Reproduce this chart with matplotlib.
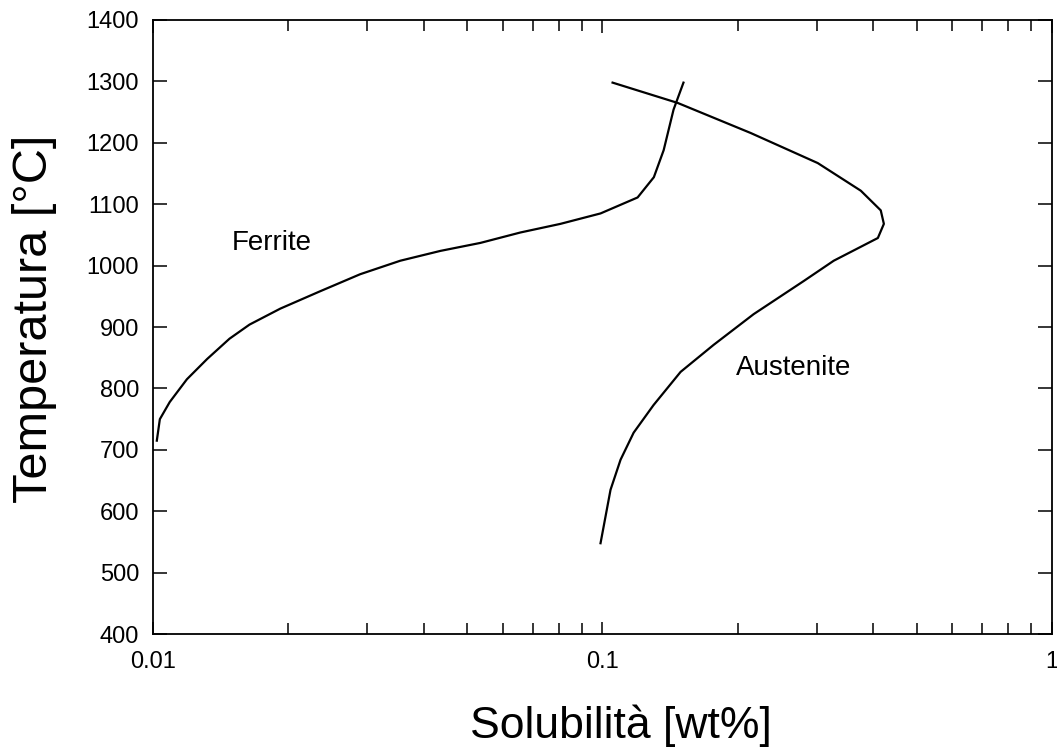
import numpy as np
import matplotlib
matplotlib.use("Agg")
import matplotlib.pyplot as plt
from matplotlib.ticker import FixedLocator, LogLocator, NullFormatter

plt.rcParams['font.family'] = ['Liberation Sans', 'DejaVu Sans']

# ferrite solubility curve (wt%, °C)
ferrite_x = [0.0102, 0.01036, 0.0109, 0.0119, 0.0132, 0.0148, 0.0164, 0.0192,
             0.0235, 0.0289, 0.0355, 0.0436, 0.0535, 0.0657, 0.0806, 0.099,
             0.1197, 0.1301, 0.1368, 0.1439, 0.1514]
ferrite_t = [715, 750, 778, 815, 848, 881, 904, 930,
             958, 986, 1008, 1024, 1037, 1054, 1068, 1085,
             1111, 1144, 1188, 1254, 1298]

# austenite solubility curve (wt%, °C)
austenite_x = [0.1053, 0.1469, 0.2136, 0.3012, 0.3755, 0.4159, 0.4226, 0.4098,
               0.3269, 0.2804, 0.2169, 0.1767, 0.1492, 0.1299, 0.1173, 0.1097,
               0.1042, 0.099]
austenite_t = [1298, 1265, 1216, 1167, 1122, 1090, 1068, 1045,
               1008, 975, 921, 871, 827, 773, 728, 684,
               635, 548]

yticks = [400, 500, 600, 700, 800, 900, 1000, 1100, 1200, 1300, 1400]
xticks = [0.01, 0.1, 1]
xtick_labels = ["0.01", "0.1", "1"]

fig = plt.figure(figsize=(10.57, 7.54), dpi=100)
ax = fig.add_axes([0.1447, 0.159, 0.8506, 0.8145])

ax.plot(ferrite_x, ferrite_t, color="black", lw=1.6, solid_joinstyle="round")
ax.plot(austenite_x, austenite_t, color="black", lw=1.6, solid_joinstyle="round")

ax.text(0.0184, 1037, "Ferrite", fontsize=20, ha="center", va="center")
ax.text(0.266, 834, "Austenite", fontsize=20, ha="center", va="center")

ax.set_xscale("log")
ax.set_xlim(0.01, 1)
ax.set_ylim(400, 1400)
ax.xaxis.set_major_locator(FixedLocator(xticks))
ax.set_xticklabels(xtick_labels)
ax.xaxis.set_minor_locator(LogLocator(base=10, subs=np.arange(2, 10)))
ax.xaxis.set_minor_formatter(NullFormatter())
ax.set_yticks(yticks)

ax.tick_params(which="both", direction="in", top=True, right=True,
               labelsize=17, width=1.1)
ax.tick_params(axis="x", which="major", length=9, pad=12)
ax.tick_params(axis="x", which="minor", length=8)
ax.tick_params(axis="y", length=10, pad=10)
for s in ax.spines.values():
    s.set_linewidth(1.3)

ax.set_xlabel("Solubilità [wt%]", fontsize=32)
ax.xaxis.set_label_coords(0.52, -0.115)
ax.set_ylabel("Temperatura [°C]", fontsize=35)
ax.yaxis.set_label_coords(-0.107, 0.513)

fig.savefig("out.png", dpi=100)
